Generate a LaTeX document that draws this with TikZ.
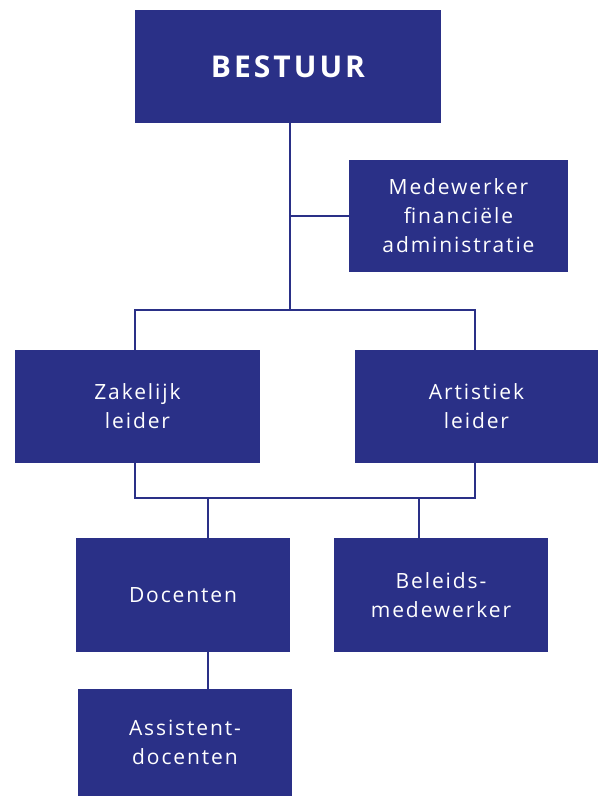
\documentclass[tikz,border=0pt]{standalone}
\usepackage{fontspec}
\setmainfont{Open Sans}
\newfontfamily\boxfont[LetterSpace=9]{Open Sans}
\newfontfamily\headfont[LetterSpace=10]{Open Sans}
\definecolor{navy}{HTML}{2A3087}
\begin{document}
\begin{tikzpicture}[x=1pt,y=-1pt,
  box/.style={fill=navy,draw=none,text=white,align=center,inner sep=0pt,
    font=\boxfont\fontsize{21}{29}\selectfont},
  conn/.style={draw=navy,line width=2pt}]
\useasboundingbox (0,0) rectangle (598,796);
\node[box,minimum width=306pt,minimum height=113pt] (bestuur) at (288,66.5)
  {\headfont\bfseries\fontsize{30}{32}\selectfont BESTUUR};
\node[box,minimum width=219pt,minimum height=112pt] (med) at (458.5,216)
  {Medewerker\\financiële\\administratie};
\node[box,minimum width=245pt,minimum height=113pt] (zak) at (137.5,406.5)
  {Zakelijk\\leider};
\node[box,minimum width=243pt,minimum height=113pt] (art) at (476.5,406.5)
  {Artistiek\\leider};
\node[box,minimum width=214pt,minimum height=114pt] (doc) at (183,595)
  {Docenten};
\node[box,minimum width=214pt,minimum height=114pt] (bel) at (441,595)
  {Beleids-\\medewerker};
\node[box,minimum width=214pt,minimum height=107pt] (ass) at (185,742.5)
  {Assistent-\\docenten};
\coordinate (j1) at (290,310);
\coordinate (zl) at (135,310);
\coordinate (ar) at (475,310);
\coordinate (zl2) at (135,498);
\coordinate (ar2) at (475,498);
\coordinate (d1) at (208,498);
\coordinate (b1) at (419,498);
\draw[conn] (bestuur.south -| j1) -- (j1);
\draw[conn] (med.west) -- (med.west -| j1);
\draw[conn] (zak.north -| zl) -- (zl) -- (ar) -- (art.north -| ar);
\draw[conn] (zak.south -| zl2) -- (zl2) -- (ar2) -- (art.south -| ar2);
\draw[conn] (d1) -- (doc.north -| d1);
\draw[conn] (b1) -- (bel.north -| b1);
\draw[conn] (doc.south -| d1) -- (ass.north -| d1);
\end{tikzpicture}
\end{document}
